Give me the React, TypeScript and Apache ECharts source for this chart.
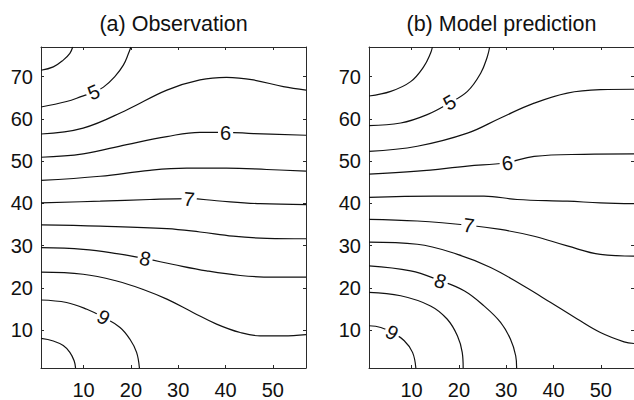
import React, { useEffect, useRef } from "react";
import * as echarts from "echarts";

// Axis ranges and tick labels
const X_MIN = 1;
const X_MAX = 57;
const Y_MIN = 1;
const Y_MAX = 77;
const X_TICKS = [10, 20, 30, 40, 50];
const Y_TICKS = [10, 20, 30, 40, 50, 60, 70];
const TITLES = ["(a) Observation", "(b) Model prediction"];

// Contour levels
const LEVELS_A = [4.5, 5, 5.5, 6, 6.5, 7, 7.5, 8, 8.5, 9, 9.5];
const LEVELS_B = [4.5, 5, 5.5, 6, 6.5, 7, 7.5, 8, 8.5, 9];

// (a) Observation contours: [x, y]
const obs45 = [[1, 71.5], [3.6, 72.3], [5.7, 73.9], [7.1, 75.5], [7.7, 77]];
const obs50 = [[1, 62.8], [6.4, 64.1], [9.6, 65.3], [12.1, 66.3], [14.2, 67.5], [16.6, 70.0], [18.4, 72.7], [19.5, 75.5], [20.0, 77]];
const obs55 = [[1, 56.4], [9.9, 57.8], [19.1, 62.1], [27.6, 66.8], [34.6, 69.2], [40.2, 69.8], [45.9, 69.2], [52.2, 67.6], [57, 66.8]];
const obs60 = [[1, 50.9], [9.9, 51.7], [19.1, 53.9], [27.6, 55.8], [34.6, 56.8], [40.2, 56.8], [45.9, 56.5], [57, 56.1]];
const obs65 = [[1, 45.4], [13.5, 46.4], [24.0, 47.8], [31.8, 48.3], [40.2, 48.3], [48.7, 48.0], [57, 47.6]];
const obs70 = [[1, 40.1], [13.5, 40.5], [24.0, 40.9], [32.5, 41.1], [38.1, 40.6], [47.3, 39.9], [57, 39.7]];
const obs75 = [[1, 34.9], [13.5, 34.6], [27.6, 34.0], [34.6, 33.2], [41.6, 32.2], [48.7, 31.7], [57, 31.6]];
const obs80 = [[1, 29.5], [9.9, 29.1], [17.0, 28.1], [23.0, 26.9], [29.0, 25.5], [36.0, 24.0], [43.1, 22.9], [50.1, 22.5], [57, 22.5]];
const obs85 = [[1, 23.7], [9.9, 23.2], [17.0, 21.6], [22.6, 19.6], [27.6, 17.3], [33.2, 14.1], [38.1, 11.4], [43.1, 9.4], [47.3, 8.6], [52.2, 8.6], [57, 8.9]];
const obs90 = [[1, 17.1], [6.4, 16.5], [10.7, 14.9], [14.2, 13.0], [17.7, 10.6], [19.8, 7.8], [21.2, 4.7], [21.8, 1]];
const obs95 = [[1, 8.0], [3.6, 7.4], [5.7, 6.3], [7.1, 4.7], [8.0, 2.7], [8.3, 1]];

// (b) Model prediction contours: [x, y]
const mod45 = [[1, 65.4], [5.6, 66.5], [9.8, 68.8], [12.6, 72.4], [14.0, 75.5], [14.4, 77]];
const mod50 = [[1, 58.4], [7.7, 59.0], [13.3, 61.0], [17.9, 63.7], [21.8, 66.5], [24.6, 70.8], [26.0, 74.7], [26.5, 77]];
const mod55 = [[1, 52.3], [11.2, 53.5], [21.8, 56.6], [28.8, 60.2], [35.9, 63.7], [42.9, 66.1], [49.9, 66.9], [57, 67.0]];
const mod60 = [[1, 46.9], [11.2, 47.6], [21.8, 48.8], [29.9, 49.6], [35.9, 51.1], [46.4, 51.6], [57, 51.7]];
const mod65 = [[1, 41.4], [14.7, 41.7], [25.3, 41.7], [32.3, 40.9], [42.9, 40.5], [49.9, 40.1], [57, 39.9]];
const mod70 = [[1, 36.2], [11.2, 35.8], [22.1, 34.8], [28.8, 33.8], [35.9, 32.2], [42.9, 29.9], [49.9, 27.9], [57, 27.5]];
const mod75 = [[1, 30.8], [11.2, 30.3], [19.7, 27.9], [26.7, 24.8], [33.7, 20.4], [39.4, 16.5], [45.0, 12.6], [49.9, 9.4], [54.9, 7.2], [57, 6.8]];
const mod80 = [[1, 25.2], [9.8, 24.0], [15.8, 21.8], [21.1, 19.3], [25.3, 15.7], [28.8, 11.8], [30.9, 7.8], [32.0, 3.9], [32.2, 1]];
const mod85 = [[1, 18.9], [7.7, 18.1], [14.0, 15.7], [17.5, 12.6], [19.7, 8.6], [20.7, 4.7], [20.9, 1]];
const mod90 = [[1, 11.0], [3.5, 10.6], [5.9, 9.4], [8.4, 7.5], [10.2, 4.7], [10.9, 1]];

const CONTOURS_A = [obs45, obs50, obs55, obs60, obs65, obs70, obs75, obs80, obs85, obs90, obs95];
const CONTOURS_B = [mod45, mod50, mod55, mod60, mod65, mod70, mod75, mod80, mod85, mod90];

// Inline contour labels: [x, y, value, rotation in degrees]
const LABELS_A = [[12.1, 66.3, 5, 23], [40.0, 56.7, 6, 0], [32.3, 41.0, 7, -6], [23.0, 26.9, 8, -12], [14.2, 13.0, 9, -30]];
const LABELS_B = [[18.0, 63.9, 5, 30], [30.2, 49.5, 6, 8], [22.1, 34.8, 7, -8], [16.1, 21.6, 8, -20], [5.9, 9.4, 9, -30]];

const FONT = "Liberation Sans";
const INK = "#111";
const AXIS = "#2a2a2a";

const GRIDS = [
  { left: 41, top: 47, width: 265, height: 322 },
  { left: 369, top: 47, width: 265, height: 322 },
];

function makeXAxis(gridIndex: number, position: "bottom" | "top") {
  return {
    type: "value",
    gridIndex,
    position,
    min: X_MIN,
    max: X_MAX,
    axisLine: { show: true, onZero: false, lineStyle: { color: AXIS, width: 1 } },
    axisTick: { show: true, inside: true, length: 3, customValues: X_TICKS, lineStyle: { color: AXIS, width: 1 } },
    splitLine: { show: false },
    axisLabel: {
      show: position === "bottom",
      customValues: X_TICKS,
      fontSize: 20,
      color: INK,
      fontFamily: FONT,
      margin: 12,
    },
  };
}

function makeYAxis(gridIndex: number, position: "left" | "right") {
  return {
    type: "value",
    gridIndex,
    position,
    min: Y_MIN,
    max: Y_MAX,
    axisLine: { show: true, onZero: false, lineStyle: { color: AXIS, width: 1 } },
    axisTick: { show: true, inside: true, length: 3, customValues: Y_TICKS, lineStyle: { color: AXIS, width: 1 } },
    splitLine: { show: false },
    axisLabel: {
      show: position === "left",
      customValues: Y_TICKS,
      fontSize: 20,
      color: INK,
      fontFamily: FONT,
      margin: 8,
    },
  };
}

function panelSeries(panel: number, contours: number[][][], levels: number[], labels: number[][]) {
  const axisIdx = panel * 2;
  const s: any[] = contours.map((pts, i) => ({
    name: `${TITLES[panel]} ${levels[i]}`,
    type: "line",
    xAxisIndex: axisIdx,
    yAxisIndex: axisIdx,
    data: pts,
    smooth: 0.4,
    showSymbol: false,
    symbol: "none",
    clip: true,
    silent: true,
    z: 2,
    lineStyle: { color: INK, width: 1.2 },
  }));
  s.push({
    type: "custom",
    coordinateSystem: "cartesian2d",
    xAxisIndex: axisIdx,
    yAxisIndex: axisIdx,
    silent: true,
    z: 5,
    encode: { x: 0, y: 1 },
    data: labels,
    renderItem: (_params: any, api: any) => {
      const p = api.coord([api.value(0), api.value(1)]);
      return {
        type: "text",
        x: p[0],
        y: p[1],
        rotation: (api.value(3) * Math.PI) / 180,
        style: {
          text: String(api.value(2)),
          x: 0,
          y: 0,
          align: "center",
          verticalAlign: "middle",
          fontSize: 20,
          fontFamily: FONT,
          fill: INK,
          backgroundColor: "#fff",
          padding: [0, 2, 0, 2],
        },
      };
    },
  });
  return s;
}

export default function App() {
  const ref = useRef<HTMLDivElement>(null);
  useEffect(() => {
    if (!ref.current) return;
    const chart = echarts.init(ref.current, undefined, { renderer: "svg" });
    chart.setOption({
      animation: false,
      backgroundColor: "#fff",
      graphic: TITLES.map((t, i) => ({
        type: "text",
        x: GRIDS[i].left + GRIDS[i].width / 2,
        y: 24,
        silent: true,
        style: {
          text: t,
          align: "center",
          verticalAlign: "middle",
          fontSize: 21.5,
          fontFamily: FONT,
          fill: INK,
        },
      })),
      grid: GRIDS.map((g) => ({ ...g, containLabel: false })),
      xAxis: [makeXAxis(0, "bottom"), makeXAxis(0, "top"), makeXAxis(1, "bottom"), makeXAxis(1, "top")],
      yAxis: [makeYAxis(0, "left"), makeYAxis(0, "right"), makeYAxis(1, "left"), makeYAxis(1, "right")],
      series: [
        ...panelSeries(0, CONTOURS_A, LEVELS_A, LABELS_A),
        ...panelSeries(1, CONTOURS_B, LEVELS_B, LABELS_B),
      ],
    });
    return () => chart.dispose();
  }, []);
  return (
    <div
      ref={ref}
      style={{ position: "fixed", left: 0, top: 0, width: 634, height: 400, background: "#fff" }}
    />
  );
}
